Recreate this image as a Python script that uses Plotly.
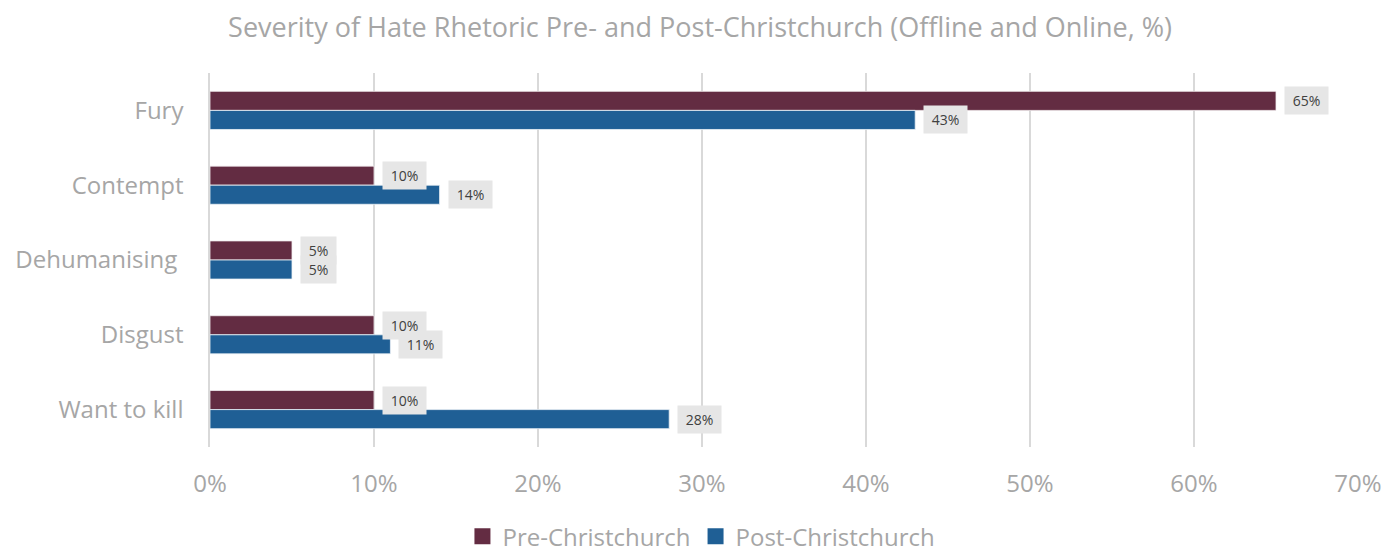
import plotly.graph_objects as go

categories = ["Fury", "Contempt", "Dehumanising\u00a0", "Disgust", "Want to kill"]
pre_christchurch = [65, 10, 5, 10, 10]
post_christchurch = [43, 14, 5, 11, 28]
x_ticks = [0, 10, 20, 30, 40, 50, 60, 70]
x_tick_labels = [f"{t}%" for t in x_ticks]

PRE_COLOR = "#632C42"
POST_COLOR = "#1F5F95"
FONT = "Open Sans"
GRAY = "#A6A6A6"
NBSP = "\u00a0"

fig = go.Figure()
fig.add_trace(go.Bar(
    name="Pre-Christchurch", y=categories, x=pre_christchurch, orientation="h",
    marker=dict(color=PRE_COLOR, line=dict(color="#F2EEF0", width=0.8)),
    showlegend=False,
))
fig.add_trace(go.Bar(
    name="Post-Christchurch", y=categories, x=post_christchurch, orientation="h",
    marker=dict(color=POST_COLOR, line=dict(color="#EEF2F6", width=0.8)),
    showlegend=False,
))

# legend entries with larger square swatches
for name, color in (("Pre-Christchurch", PRE_COLOR), ("Post-Christchurch", POST_COLOR)):
    fig.add_trace(go.Scatter(
        x=[None], y=[None], mode="markers", name=name,
        marker=dict(symbol="square", size=16, color=color),
        showlegend=True,
    ))

# value labels in grey boxes to the right of each bar
# (post-series first so the pre-series boxes sit on top where they meet)
annotations = []
for series, shift in ((post_christchurch, -9.5), (pre_christchurch, 9.5)):
    for cat, val in zip(categories, series):
        annotations.append(dict(
            x=val, y=cat, xref="x", yref="y",
            text=f"{NBSP}{val}%{NBSP}",
            showarrow=False, xanchor="left", yanchor="middle",
            xshift=8, yshift=shift,
            bgcolor="#E6E6E6", borderpad=4,
            font=dict(family=FONT, size=14, color="#404040"),
        ))

fig.update_layout(
    width=1389, height=552,
    margin=dict(l=210, r=31, t=73, b=105, autoexpand=False),
    paper_bgcolor="white", plot_bgcolor="white",
    barmode="group", bargap=0.49, bargroupgap=0,
    title=dict(
        text="Severity of Hate Rhetoric Pre- and Post-Christchurch (Offline and Online, %)",
        x=0.504, xanchor="center", xref="container", y=0.95, yanchor="middle",
        font=dict(family=FONT, size=27, color=GRAY),
    ),
    xaxis=dict(
        range=[0, 70], tickvals=x_ticks, ticktext=x_tick_labels,
        showgrid=True, gridcolor="#D9D9D9", gridwidth=1.5,
        zeroline=False, showline=False,
        tickfont=dict(family=FONT, size=24, color=GRAY),
        ticklabelstandoff=20,
    ),
    yaxis=dict(
        autorange="reversed", showgrid=False, zeroline=False,
        showline=True, linecolor="#D9D9D9", linewidth=1.5,
        tickfont=dict(family=FONT, size=24, color=GRAY),
        ticklabelstandoff=20,
    ),
    legend=dict(
        orientation="h", x=0.505, xanchor="center", xref="container",
        y=0.028, yanchor="middle", yref="container",
        font=dict(family=FONT, size=24, color=GRAY),
        itemwidth=30, traceorder="normal", tracegroupgap=0,
    ),
    annotations=annotations,
)

fig.write_html("out.html")
